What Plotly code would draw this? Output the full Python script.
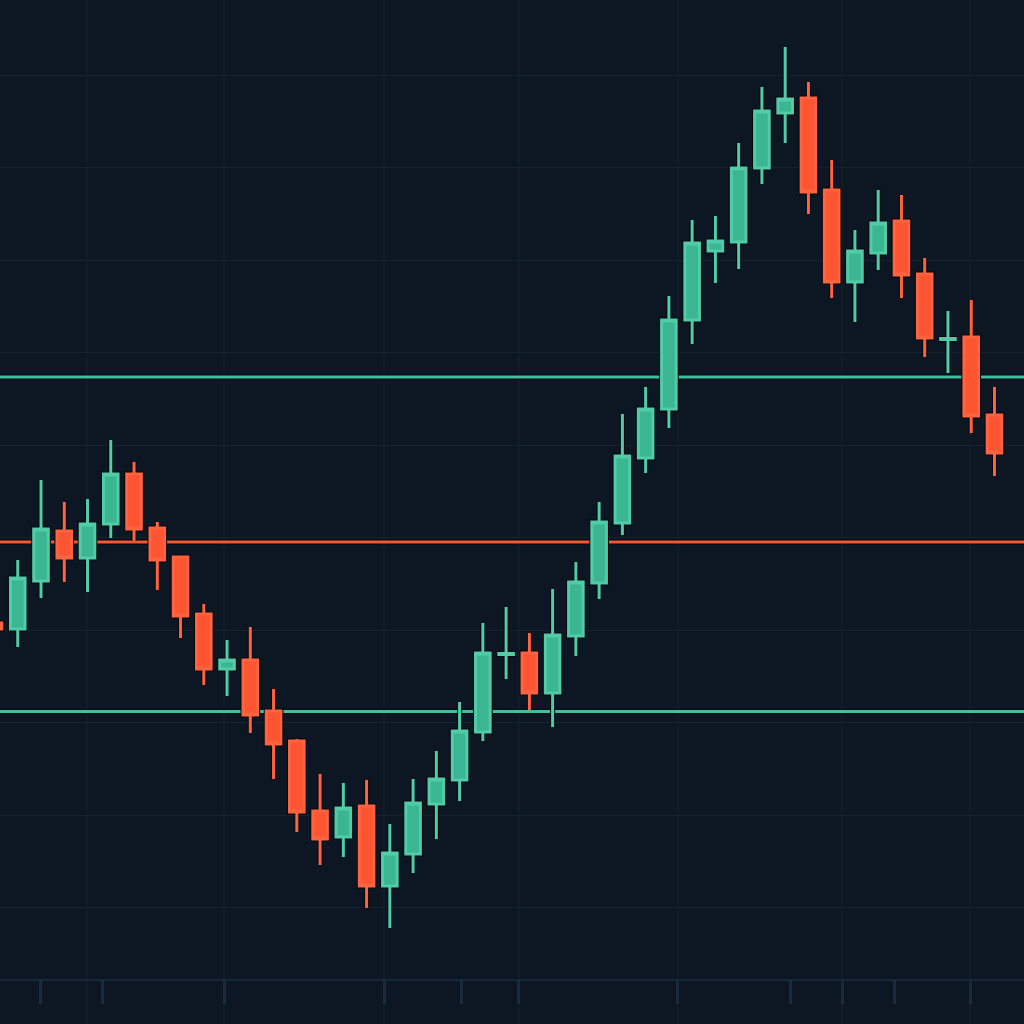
import plotly.graph_objects as go

# ---- data (price units) ----
idx = list(range(44))
opens = [100.38, 100.05, 102.65, 105.35, 103.89, 105.73, 108.43, 105.51, 103.95, 100.86,
         97.89, 98.38, 95.62, 94.00, 90.22, 88.81, 90.49, 86.16, 87.89, 90.59,
         91.89, 94.49, 98.68, 98.76, 96.59, 99.68, 102.54, 105.78, 109.30, 111.95,
         116.76, 120.49, 120.97, 124.97, 127.95, 128.76, 123.78, 118.81, 120.38, 122.11,
         119.24, 115.70, 115.84, 111.62]
highs = [100.81, 103.78, 108.11, 106.92, 107.08, 110.27, 109.08, 105.84, 104.00, 101.41,
         99.46, 100.16, 96.81, 94.11, 92.22, 91.73, 91.89, 89.51, 91.95, 93.46,
         96.11, 100.38, 101.24, 99.84, 102.22, 103.68, 106.92, 111.68, 113.14, 118.05,
         122.16, 122.38, 126.32, 129.35, 131.51, 129.62, 125.41, 121.62, 123.78, 123.51,
         120.11, 117.24, 117.84, 113.14]
lows = [99.73, 99.08, 101.73, 102.60, 102.05, 104.97, 104.81, 102.16, 99.57, 97.03,
        96.43, 94.43, 91.95, 89.08, 87.30, 87.73, 84.97, 83.89, 86.86, 88.70,
        90.76, 94.00, 97.35, 95.68, 94.76, 98.59, 101.68, 105.14, 108.49, 110.92,
        115.46, 118.76, 119.51, 124.11, 126.32, 122.49, 117.95, 116.65, 119.46, 117.95,
        114.76, 113.89, 110.65, 108.32]
closes = [100.05, 102.81, 105.46, 103.89, 105.73, 108.43, 105.46, 103.78, 100.76, 97.89,
          98.38, 95.41, 93.84, 90.16, 88.70, 90.38, 86.16, 87.95, 90.65, 91.95,
          94.54, 98.76, 98.73, 96.59, 99.73, 102.60, 105.84, 109.41, 111.95, 116.76,
          120.92, 121.03, 124.97, 128.05, 128.70, 123.68, 118.81, 120.49, 122.00, 119.19,
          115.78, 115.76, 111.57, 109.57]

support_resistance = [113.68, 104.76, 95.59]
level_colors = ["#3fbf9e", "#f5572f", "#3fbf9e"]

grid_x = [3.978, 9.869, 16.749, 22.554, 29.391, 36.444, 41.948]
tick_x = [1.957, 4.623, 9.869, 16.749, 20.06, 22.554, 29.391, 34.25, 36.444, 38.68, 41.948]
grid_y = [85, 90, 95, 100, 105, 110, 115, 120, 125, 130]

x_range = [0.2365, 44.27]
y_range = [78.703, 134.054]

BG = "#0c1723"
GRID = "#15222f"
UP_FILL, UP_LINE = "#3bb693", "#52cca8"
DN_FILL, DN_LINE = "#fd5532", "#ff6340"
OUTLINE = "#05090e"

fig = go.Figure()

# dark outline layer
fig.add_trace(go.Candlestick(
    x=idx, open=opens, high=highs, low=lows, close=closes,
    increasing=dict(line=dict(color=OUTLINE, width=5), fillcolor=OUTLINE),
    decreasing=dict(line=dict(color=OUTLINE, width=5), fillcolor=OUTLINE),
    hoverinfo="skip", showlegend=False,
))
# coloured candles
fig.add_trace(go.Candlestick(
    x=idx, open=opens, high=highs, low=lows, close=closes,
    increasing=dict(line=dict(color=UP_LINE, width=3), fillcolor=UP_FILL),
    decreasing=dict(line=dict(color=DN_LINE, width=3), fillcolor=DN_FILL),
    showlegend=False,
))

for gx in grid_x:
    fig.add_vline(x=gx, line=dict(color=GRID, width=1), layer="below")

for lvl, col in zip(support_resistance, level_colors):
    fig.add_hline(y=lvl, line=dict(color=OUTLINE, width=5), layer="below")
    fig.add_hline(y=lvl, line=dict(color=col, width=3), layer="below")

fig.update_layout(
    width=1024, height=1024,
    margin=dict(l=0, r=0, t=0, b=0),
    paper_bgcolor=BG, plot_bgcolor=BG,
    showlegend=False,
    boxgap=0.372, boxgroupgap=0,
    hovermode=False,
    xaxis=dict(
        range=x_range, rangeslider=dict(visible=False),
        anchor="free", position=44/1024,
        showgrid=False, zeroline=False,
        showline=True, linecolor="#17283a", linewidth=2,
        tickmode="array", tickvals=tick_x, showticklabels=False,
        ticks="outside", ticklen=23, tickwidth=3, tickcolor="#1a2b3d",
    ),
    yaxis=dict(
        range=y_range, showgrid=True, gridcolor=GRID, gridwidth=1,
        tickmode="array", tickvals=grid_y, showticklabels=False,
        zeroline=False, showline=False, ticks="",
    ),
)

fig.write_html(
    "out.html",
    config={"displayModeBar": False, "staticPlot": True},
    post_script="document.body.style.margin='0';document.body.style.overflow='hidden';document.body.style.background='#0c1723';",
)
